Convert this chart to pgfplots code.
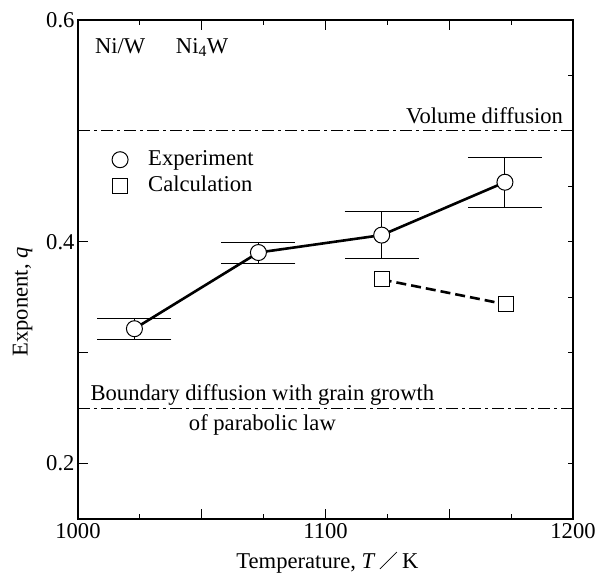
\documentclass[border=0pt]{standalone}
\usepackage{pgfplots}
\pgfplotsset{compat=1.18}
\usepackage{fontspec}
\setmainfont{Liberation Serif}
\usetikzlibrary{calc}
\begin{document}
\begin{tikzpicture}[font=\fontsize{22.6}{27}\selectfont]
\begin{axis}[
  name=main,
  scale only axis, width=495pt, height=499pt,
  xmin=1000, xmax=1200, ymin=0.15, ymax=0.6,
  axis line style={line width=1.3pt},
  tick align=inside,
  xtick={1000,1050,1100,1150,1200},
  xticklabels={1000,,1100,,1200},
  minor xtick={1025,1075,1125,1175},
  xtick pos=both,
  ytick={0.2,0.3,0.4,0.5,0.6},
  yticklabels={0.2,,0.4,,0.6},
  ytick pos=left,
  major tick length=10pt, minor tick length=5pt,
  every tick/.style={black, line width=1pt},
  /pgf/number format/assume math mode=true,
  xlabel={Temperature, \textit{T}\hspace{4pt}\tikz[baseline=0pt]{\draw[line width=0.7pt] (0,-1pt) -- (17pt,16pt);}\hspace{5pt}K},
  ylabel={Exponent, \textit{q}},
  xlabel style={at={(rel axis cs:0.5,0)}, anchor=base, yshift=-49pt, xshift=2pt},
  ylabel style={at={(rel axis cs:0,0.435)}, anchor=south, yshift=42pt},
  xticklabel style={yshift=-1pt},
  clip=false,
]
% reference lines
\addplot[black, line width=0.9pt, dash pattern=on 12pt off 4pt on 3pt off 4pt, forget plot] coordinates {(1000,0.5) (1200,0.5)};
\addplot[black, line width=0.9pt, dash pattern=on 12pt off 4pt on 3pt off 4pt, forget plot] coordinates {(1000,0.25) (1200,0.25)};
% error bars
\addplot[forget plot, only marks, mark=none,
  error bars/.cd, y dir=both, y explicit, error mark=|,
  error bar style={black, line width=0.9pt, solid},
  error mark options={black, line width=0.9pt, mark size=37pt}]
  coordinates {
  (1022.8,0.3216) +- (0,0.0093)
  (1072.9,0.3903) +- (0,0.0094)
  (1122.7,0.4060) +- (0,0.0210)
  (1172.5,0.4537) +- (0,0.0225)
  };
% experiment
\addplot[black, line width=2.6pt, mark=*, mark size=8pt,
  mark options={solid, fill=white, draw=black, line width=1pt}, forget plot]
  coordinates {(1022.8,0.3216) (1072.9,0.3903) (1122.7,0.4060) (1172.5,0.4537)};
% calculation
\addplot[black, line width=2.6pt, dash pattern=on 10pt off 5pt, mark=square*, mark size=7.5pt,
  mark options={solid, fill=white, draw=black, line width=1pt}, forget plot]
  coordinates {(1122.7,0.366) (1172.8,0.3436)};
% legend
\addplot[only marks, mark=o, mark size=8pt, mark options={line width=1pt}, forget plot] coordinates {(1017,0.474)};
\addplot[only marks, mark=square, mark size=7.5pt, mark options={line width=1pt}, forget plot] coordinates {(1017,0.4505)};
\node[anchor=base west, inner sep=0pt] at (axis cs:1028.3,0.469) {Experiment};
\node[anchor=base west, inner sep=0pt] at (axis cs:1028.3,0.4455) {Calculation};
% texts
\node[anchor=base west, inner sep=0pt] at (axis cs:1006.8,0.5697) {Ni/W};
\node[anchor=base west, inner sep=0pt] at (axis cs:1039.5,0.5697) {Ni\textsubscript{4}W};
\node[anchor=base east, inner sep=0pt] at (axis cs:1196,0.5071) {Volume diffusion};
\node[anchor=base, inner sep=0pt] at (axis cs:1074.5,0.2571) {Boundary diffusion with grain growth};
\node[anchor=base, inner sep=0pt] at (axis cs:1074.5,0.2300) {of parabolic law};
\end{axis}
\begin{axis}[
  scale only axis, width=495pt, height=499pt,
  xmin=1000, xmax=1200, ymin=0.15, ymax=0.6,
  axis x line=none, axis y line*=right,
  axis line style={line width=1.3pt},
  tick align=inside,
  ytick={0.2,0.25,0.3,0.35,0.4,0.45,0.5,0.55},
  yticklabels={},
  major tick length=5pt,
  every tick/.style={black, line width=1pt},
]
\end{axis}
\pgfresetboundingbox
\path ($(main.south west)+(-78pt,-56pt)$) rectangle ($(main.north east)+(26pt,20pt)$);
\end{tikzpicture}
\end{document}
